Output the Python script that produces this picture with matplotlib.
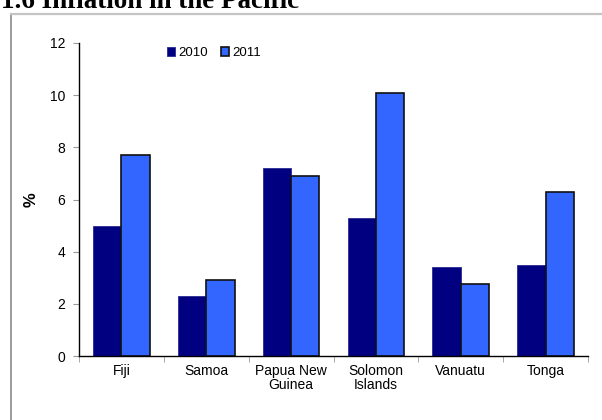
import matplotlib
matplotlib.use("Agg")
import matplotlib.pyplot as plt
from matplotlib.lines import Line2D
import numpy as np

categories = ["Fiji", "Samoa", "Papua New\nGuinea", "Solomon\nIslands", "Vanuatu", "Tonga"]
values_2010 = [5.0, 2.3, 7.2, 5.3, 3.4, 3.5]
values_2011 = [7.7, 2.9, 6.9, 10.1, 2.75, 6.3]
series_names = ["2010", "2011"]
yticks = [0, 2, 4, 6, 8, 10, 12]

W, H = 602, 420
fig = plt.figure(figsize=(W / 100, H / 100), dpi=100)
fig.patch.set_facecolor("white")

# outer frame
fig.add_artist(Line2D([10.5 / W, 10.5 / W], [0, 1 - 13.5 / H], transform=fig.transFigure,
                      color="#8a8a8a", lw=1.2))
fig.add_artist(Line2D([10.5 / W, 1], [1 - 13.5 / H, 1 - 13.5 / H], transform=fig.transFigure,
                      color="#c4c4c4", lw=1.6))

fig.text(1 / W, 1 - 8.5 / H, "1.6 Inflation in the Pacific", fontsize=19.5,
         fontweight="bold", family="Liberation Serif", ha="left", va="baseline")

ax = fig.add_axes([79 / W, 64 / H, (588 - 79) / W, (356 - 43) / H])
x = np.arange(len(categories))
bw = 1 / 3
b1 = ax.bar(x - bw / 2, values_2010, bw, color="#000080", edgecolor="#2a2a90", linewidth=0.6,
            label=series_names[0])
b2 = ax.bar(x + bw / 2, values_2011, bw, color="#3366FF", edgecolor="#111111", linewidth=1.2,
            label=series_names[1])

ax.set_xlim(-0.5, len(categories) - 0.5)
ax.set_ylim(0, 12)
ax.set_yticks(yticks)
ax.set_yticklabels([str(v) for v in yticks])
ax.set_xticks(x)
ax.set_xticklabels(categories, family="Liberation Sans", fontsize=10, linespacing=1.0)
ax.set_xticks(np.arange(len(categories) + 1) - 0.5, minor=True)
ax.tick_params(axis="x", which="major", length=0, pad=6)
ax.tick_params(axis="x", which="minor", length=4, color="#999999", direction="out")
ax.tick_params(axis="y", length=4, color="#999999", direction="out", pad=6)
for lab in ax.get_yticklabels():
    lab.set_family("Liberation Sans")
    lab.set_fontsize(10)

for s in ["top", "right"]:
    ax.spines[s].set_visible(False)
ax.spines["left"].set_color("black")
ax.spines["bottom"].set_color("black")
ax.spines["left"].set_linewidth(1.0)
ax.spines["bottom"].set_linewidth(1.0)

ax.set_ylabel("%", fontsize=12, fontweight="bold", family="Liberation Sans")
ax.yaxis.set_label_coords(-0.08, 0.5)

leg = ax.legend(loc="center left", bbox_to_anchor=(0.16, 0.968), ncol=2, frameon=False,
                handlelength=0.6, handleheight=0.6, handletextpad=0.25, columnspacing=1.0,
                borderpad=0, prop={"family": "Liberation Sans", "size": 9.5})

fig.savefig("out.png", dpi=100)
